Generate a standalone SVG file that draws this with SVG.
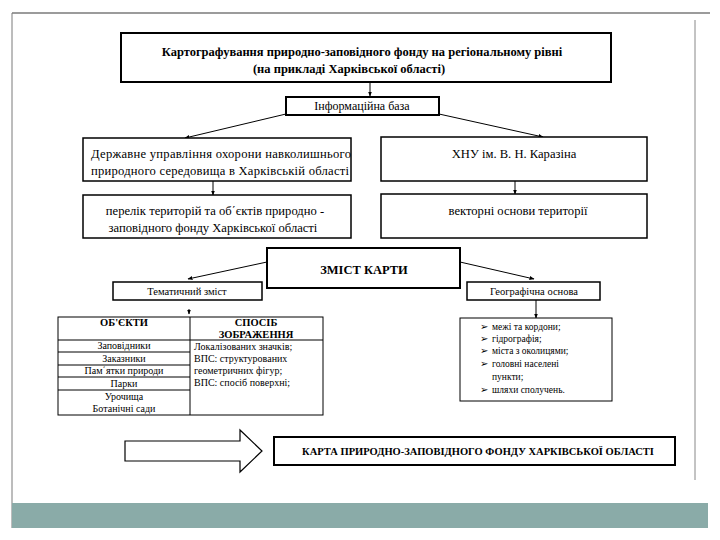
<svg xmlns="http://www.w3.org/2000/svg" width="720" height="540" viewBox="0 0 720 540" font-family="'Liberation Serif', 'Times New Roman', serif">
<defs>
<marker id="ah" viewBox="0 0 10 10" refX="9" refY="5" markerWidth="5" markerHeight="5" orient="auto"><path d="M0,1 L10,5 L0,9 z" fill="#000"/></marker>
<style>
.bx{fill:#fff;stroke:#000;stroke-width:1.5}
.bx2{fill:#fff;stroke:#000;stroke-width:2}
text{fill:#000}
.c{text-anchor:middle}
.b{font-weight:bold}
.ln{stroke:#000;stroke-width:1;fill:none}
.tl{stroke:#000;stroke-width:1}
</style>
</defs>
<rect x="0" y="0" width="720" height="540" fill="#fff"/>
<g id="frame">
<line x1="12" y1="13" x2="710" y2="13" stroke="#7a7a7a" stroke-width="1.5"/>
<line x1="12" y1="13" x2="12" y2="528" stroke="#7a7a7a" stroke-width="1"/>
<line x1="695" y1="20" x2="695" y2="480" stroke="#888" stroke-width="1"/>
<rect x="12" y="503" width="696" height="25" fill="#8aaba8"/>
</g>
<g id="connectors">
<line class="ln" x1="370" y1="82" x2="370" y2="96" marker-end="url(#ah)"/>
<line class="ln" x1="286" y1="114" x2="185" y2="138" marker-end="url(#ah)"/>
<line class="ln" x1="439" y1="114" x2="543" y2="137" marker-end="url(#ah)"/>
<line class="ln" x1="213" y1="181" x2="213" y2="195" marker-end="url(#ah)"/>
<line class="ln" x1="515" y1="181" x2="515" y2="194" marker-end="url(#ah)"/>
<line class="ln" x1="267" y1="262" x2="188" y2="279" marker-end="url(#ah)"/>
<line class="ln" x1="460" y1="262" x2="534" y2="279" marker-end="url(#ah)"/>
<line class="ln" x1="189" y1="309" x2="189" y2="314" marker-end="url(#ah)"/>
<line class="ln" x1="536" y1="300" x2="536" y2="318" marker-end="url(#ah)"/>
<path d="M125,441 H240 V430 L262,451 L240,472 V461 H125 Z" fill="#fff" stroke="#000" stroke-width="1.2"/>
</g>
<g id="title">
<rect class="bx2" x="121" y="33" width="490" height="49"/>
<text class="b c" x="362" y="56" font-size="12.5">Картографування природно-заповідного фонду на регіональному рівні</text>
<text class="b c" x="349" y="73" font-size="12.5">(на прикладі Харківської області)</text>
</g>
<g id="info">
<rect class="bx2" x="286" y="97" width="153" height="18"/>
<text class="c" x="362" y="110" font-size="12">Інформаційна база</text>
</g>
<g id="derzh">
<rect class="bx" x="83" y="138" width="268" height="43"/>
<text x="91" y="158" font-size="12.6" textLength="260">Державне управління охорони навколишнього</text>
<text x="91" y="175" font-size="12.6" textLength="258">природного середовища в Харківській області</text>
</g>
<g id="perelik">
<rect class="bx" x="83" y="195" width="268" height="43"/>
<text class="c" x="215" y="215" font-size="12.6">перелік територій та об΄єктів природно -</text>
<text class="c" x="213" y="232" font-size="12.6">заповідного фонду Харківської області</text>
</g>
<g id="khnu">
<rect class="bx" x="381" y="137" width="266" height="44"/>
<text class="c" x="514" y="158" font-size="12.6">ХНУ ім. В. Н. Каразіна</text>
</g>
<g id="vector">
<rect class="bx" x="381" y="194" width="266" height="44"/>
<text class="c" x="518" y="215" font-size="12.6">векторні основи території</text>
</g>
<g id="zmist">
<rect class="bx2" x="267" y="248" width="193" height="40"/>
<text class="b c" x="364" y="274" font-size="12.5">ЗМІСТ КАРТИ</text>
</g>
<g id="tematychnyi">
<rect class="bx" x="113" y="282" width="149" height="18"/>
<text class="c" x="187" y="295" font-size="10.5">Тематичний зміст</text>
</g>
<g id="geo">
<rect class="bx" x="467" y="282" width="133" height="18"/>
<text class="c" x="534" y="295" font-size="10.5">Географічна основа</text>
</g>
<g id="table">
<rect x="58" y="317" width="265" height="98" fill="#fff" stroke="#000" stroke-width="1"/>
<line class="tl" x1="190" y1="317" x2="190" y2="415"/>
<line class="tl" x1="58" y1="340" x2="323" y2="340"/>
<line class="tl" x1="58" y1="352" x2="190" y2="352"/>
<line class="tl" x1="58" y1="365" x2="190" y2="365"/>
<line class="tl" x1="58" y1="377" x2="190" y2="377"/>
<line class="tl" x1="58" y1="390" x2="190" y2="390"/>
<text class="b c" x="124" y="326" font-size="10.5">ОБ'ЄКТИ</text>
<text class="b c" x="256" y="326" font-size="10.5">СПОСІБ</text>
<text class="b c" x="256" y="338" font-size="10.5">ЗОБРАЖЕННЯ</text>
<text class="c" x="124" y="349" font-size="10">Заповідники</text>
<text class="c" x="124" y="362" font-size="10">Заказники</text>
<text class="c" x="124" y="374" font-size="10">Пам΄ятки природи</text>
<text class="c" x="124" y="387" font-size="10">Парки</text>
<text class="c" x="124" y="400" font-size="10">Урочища</text>
<text class="c" x="124" y="412" font-size="10">Ботанічні сади</text>
<text x="194" y="350" font-size="10">Локалізованих значків;</text>
<text x="194" y="362" font-size="10">ВПС: структурованих</text>
<text x="194" y="374" font-size="10">геометричних фігур;</text>
<text x="194" y="386" font-size="10">ВПС: спосіб поверхні;</text>
</g>
<g id="bullets">
<rect x="460" y="318" width="152" height="83" fill="#fff" stroke="#000" stroke-width="1"/>
<g font-size="9.5">
<text x="480" y="330">➢</text><text x="492" y="330">межі та кордони;</text>
<text x="480" y="342">➢</text><text x="492" y="342">гідрографія;</text>
<text x="480" y="354">➢</text><text x="492" y="354">міста з околицями;</text>
<text x="480" y="367">➢</text><text x="492" y="367">головні населені</text>
<text x="492" y="380">пункти;</text>
<text x="480" y="393">➢</text><text x="492" y="393">шляхи сполучень.</text>
</g>
</g>
<g id="karta">
<rect class="bx2" x="274" y="437" width="401" height="28"/>
<text class="b c" x="478" y="455" font-size="10.5">КАРТА ПРИРОДНО-ЗАПОВІДНОГО ФОНДУ ХАРКІВСЬКОЇ ОБЛАСТІ</text>
</g>
</svg>
